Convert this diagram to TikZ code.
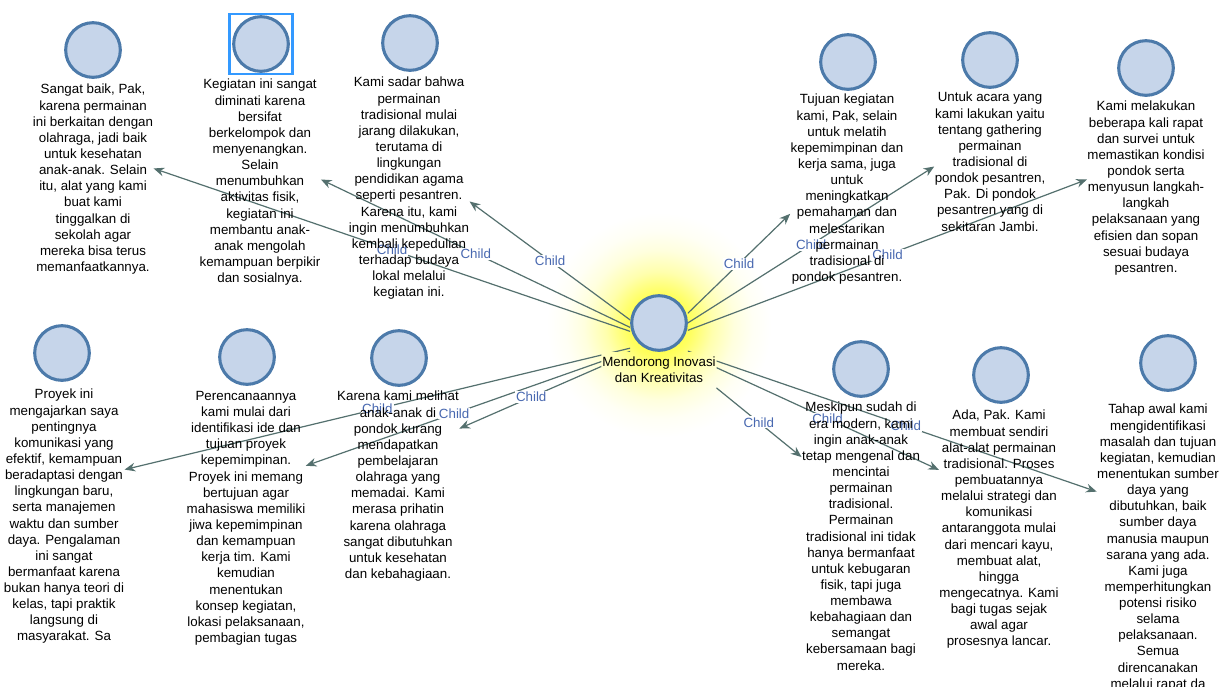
\documentclass[tikz,border=0pt]{standalone}
\usepackage{fontspec}
\setmainfont{Liberation Sans}
\usetikzlibrary{arrows.meta,fit,calc}
\definecolor{iconfill}{RGB}{198,213,234}
\definecolor{iconedge}{RGB}{76,122,170}
\definecolor{edgecol}{RGB}{84,112,110}
\definecolor{lblcol}{RGB}{72,104,176}
\definecolor{selcol}{RGB}{51,153,255}
\pgfdeclarelayer{bg}
\pgfsetlayers{bg,main}
\pgfdeclareradialshading{glow}{\pgfpoint{0bp}{0bp}}{color(0bp)=(yellow!90);color(24bp)=(yellow!62);color(40bp)=(yellow!32);color(56bp)=(yellow!13);color(70bp)=(yellow!4);color(84bp)=(white);color(100bp)=(white)}
\tikzset{
  txt/.style={font=\fontsize{10}{12.1}\selectfont, align=center, inner sep=0pt, anchor=north},
  icon/.style={circle, draw=iconedge, fill=iconfill, line width=2.3pt, minimum size=41pt, inner sep=0pt},
  grp/.style={inner sep=0pt},
  childedge/.style={draw=edgecol, line width=0.9pt, -{Stealth[length=8pt,width=6.5pt]}},
  childlbl/.style={font=\fontsize{10}{12}\selectfont, text=lblcol, fill=white, inner sep=0.8pt},
  selbox/.style={draw=selcol, line width=2.2pt, minimum width=47pt, minimum height=45pt, inner sep=0pt},
}
\begin{document}
\begin{tikzpicture}[x=0.75pt,y=-0.75pt]
\useasboundingbox (0,0) rectangle (1231,686);
\begin{pgfonlayer}{bg}
\fill[white] (0,0) rectangle (1231,686);
\node[inner sep=0pt] (glow) at (659,325) {\pgfuseshading{glow}};
\end{pgfonlayer}

% hub
\node[icon] (hubc) at (659,323) {};
\node[txt, inner xsep=0.5pt, inner ysep=3.75pt] (hubl) at (hubc.south) {Mendorong Inovasi\\dan Kreativitas};
\node[grp, fit=(hubc)(hubl)] (hub) {};

% top row
\node[icon] (c1) at (93,50) {};
\node[txt] (t1) at (93,84) {Sangat baik, Pak,\\karena permainan\\ini berkaitan dengan\\olahraga, jadi baik\\untuk kesehatan\\anak-anak. Selain\\itu, alat yang kami\\buat kami\\tinggalkan di\\sekolah agar\\mereka bisa terus\\memanfaatkannya.};
\node[grp, fit=(c1)(t1)] (n1) {};

\node[icon] (c2) at (261,44) {};
\node[selbox] (sel) at (c2) {};
\node[txt] (t2) at (260,79) {Kegiatan ini sangat\\diminati karena\\bersifat\\berkelompok dan\\menyenangkan.\\Selain\\menumbuhkan\\aktivitas fisik,\\kegiatan ini\\membantu anak-\\anak mengolah\\kemampuan berpikir\\dan sosialnya.};
\node[grp, fit=(c2)(t2)] (n2) {};

\node[icon] (c3) at (410,43) {};
\node[txt] (t3) at (409,77) {Kami sadar bahwa\\permainan\\tradisional mulai\\jarang dilakukan,\\terutama di\\lingkungan\\pendidikan agama\\seperti pesantren.\\Karena itu, kami\\ingin menumbuhkan\\kembali kepedulian\\terhadap budaya\\lokal melalui\\kegiatan ini.};
\node[grp, fit=(c3)(t3)] (n3) {};

\node[icon] (c4) at (848,62) {};
\node[txt] (t4) at (847,94) {Tujuan kegiatan\\kami, Pak, selain\\untuk melatih\\kepemimpinan dan\\kerja sama, juga\\untuk\\meningkatkan\\pemahaman dan\\melestarikan\\permainan\\tradisional di\\pondok pesantren.};
\node[grp, fit=(c4)(t4)] (n4) {};

\node[icon] (c5) at (990,60) {};
\node[txt] (t5) at (990,92) {Untuk acara yang\\kami lakukan yaitu\\tentang gathering\\permainan\\tradisional di\\pondok pesantren,\\Pak. Di pondok\\pesantren yang di\\sekitaran Jambi.};
\node[grp, fit=(c5)(t5)] (n5) {};

\node[icon] (c6) at (1146,68) {};
\node[txt] (t6) at (1146,101) {Kami melakukan\\beberapa kali rapat\\dan survei untuk\\memastikan kondisi\\pondok serta\\menyusun langkah-\\langkah\\pelaksanaan yang\\efisien dan sopan\\sesuai budaya\\pesantren.};
\node[grp, fit=(c6)(t6)] (n6) {};

% bottom row
\node[icon] (c7) at (62,353) {};
\node[txt] (t7) at (64,389) {Proyek ini\\mengajarkan saya\\pentingnya\\komunikasi yang\\efektif, kemampuan\\beradaptasi dengan\\lingkungan baru,\\serta manajemen\\waktu dan sumber\\daya. Pengalaman\\ini sangat\\bermanfaat karena\\bukan hanya teori di\\kelas, tapi praktik\\langsung di\\masyarakat. Sa};
\node[grp, fit=(c7)(t7)] (n7) {};

\node[icon] (c8) at (247,357) {};
\node[txt] (t8) at (246,391) {Perencanaannya\\kami mulai dari\\identifikasi ide dan\\tujuan proyek\\kepemimpinan.\\Proyek ini memang\\bertujuan agar\\mahasiswa memiliki\\jiwa kepemimpinan\\dan kemampuan\\kerja tim. Kami\\kemudian\\menentukan\\konsep kegiatan,\\lokasi pelaksanaan,\\pembagian tugas};
\node[grp, fit=(c8)(t8)] (n8) {};

\node[icon] (c9) at (399,358) {};
\node[txt] (t9) at (398,391) {Karena kami melihat\\anak-anak di\\pondok kurang\\mendapatkan\\pembelajaran\\olahraga yang\\memadai. Kami\\merasa prihatin\\karena olahraga\\sangat dibutuhkan\\untuk kesehatan\\dan kebahagiaan.};
\node[grp, fit=(c9)(t9)] (n9) {};

\node[icon] (c10) at (861,369) {};
\node[txt] (t10) at (861,402) {Meskipun sudah di\\era modern, kami\\ingin anak-anak\\tetap mengenal dan\\mencintai\\permainan\\tradisional.\\Permainan\\tradisional ini tidak\\hanya bermanfaat\\untuk kebugaran\\fisik, tapi juga\\membawa\\kebahagiaan dan\\semangat\\kebersamaan bagi\\mereka.};
\node[grp, fit=(c10)(t10)] (n10) {};

\node[icon] (c11) at (1001,375) {};
\node[txt] (t11) at (999,410) {Ada, Pak. Kami\\membuat sendiri\\alat-alat permainan\\tradisional. Proses\\pembuatannya\\melalui strategi dan\\komunikasi\\antaranggota mulai\\dari mencari kayu,\\membuat alat,\\hingga\\mengecatnya. Kami\\bagi tugas sejak\\awal agar\\prosesnya lancar.};
\node[grp, fit=(c11)(t11)] (n11) {};

\node[icon] (c12) at (1168,363) {};
\node[txt] (t12) at (1158,404) {Tahap awal kami\\mengidentifikasi\\masalah dan tujuan\\kegiatan, kemudian\\menentukan sumber\\daya yang\\dibutuhkan, baik\\sumber daya\\manusia maupun\\sarana yang ada.\\Kami juga\\memperhitungkan\\potensi risiko\\selama\\pelaksanaan.\\Semua\\direncanakan\\melalui rapat da};
\node[grp, fit=(c12)(t12)] (n12) {};

% connectors
\begin{pgfonlayer}{bg}
\begin{scope}
\clip (0,0) -- (1231,0) -- (1231,686) -- (0,686) -- cycle
  (hubc.west |- hubc.north) -- (hubc.west |- hubl.north) -- (hubl.north west) -- (hubl.south west)
  -- (hubl.south east) -- (hubl.north east) -- (hubc.east |- hubl.north) -- (hubc.east |- hubc.north) -- cycle;
\draw[childedge] (hub.center) -- node[childlbl, pos=0.528] {Child} (n1);
\draw[childedge] (hub.center) -- node[childlbl, pos=0.542] {Child} (n2);
\draw[childedge] (hub.center) -- node[childlbl, pos=0.575] {Child} (n3);
\draw[childedge] (hub.center) -- node[childlbl, pos=0.61] {Child} (n4);
\draw[childedge] (hub.center) -- node[childlbl, pos=0.553] {Child} (n5);
\draw[childedge] (hub.center) -- node[childlbl, pos=0.534] {Child} (n6);
\draw[childedge] (hub.center) -- node[childlbl, pos=0.527] {Child} (n7);
\draw[childedge] (hub.center) -- node[childlbl, pos=0.58] {Child} (n8);
\draw[childedge] (hub.center) -- node[childlbl, pos=0.64] {Child} (n9);
\draw[childedge] (hub.center) -- node[childlbl, pos=0.70] {Child} (n10);
\draw[childedge] (hub.center) -- node[childlbl, pos=0.602] {Child} (n11);
\draw[childedge] (hub.center) -- node[childlbl, pos=0.564] {Child} (n12);
\end{scope}
\end{pgfonlayer}
\end{tikzpicture}
\end{document}
